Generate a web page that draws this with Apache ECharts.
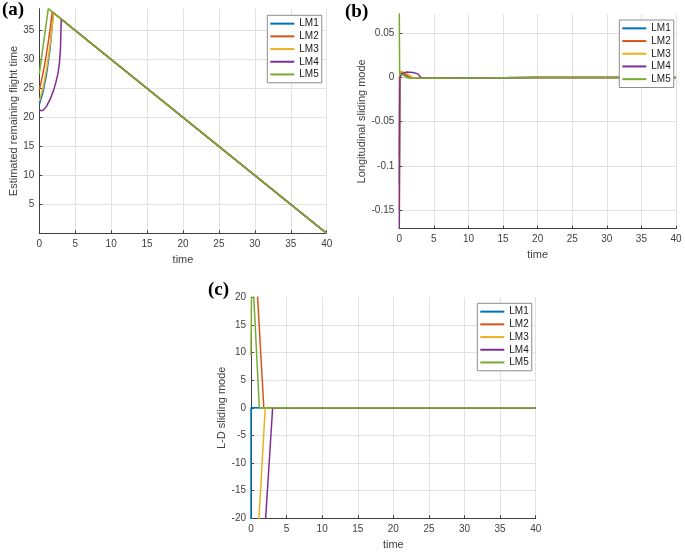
<!DOCTYPE html>
<html>
<head>
<meta charset="utf-8">
<script src="https://cdn.jsdelivr.net/npm/echarts@6/dist/echarts.min.js"></script>
<style>html,body{margin:0;padding:0;background:#fff}#c{width:685px;height:553px}</style>
</head>
<body>
<div id="c"></div>
<script>
// ---------- DATA ----------
var seriesNames = ['LM1', 'LM2', 'LM3', 'LM4', 'LM5'];
var xTicks = [0, 5, 10, 15, 20, 25, 30, 35, 40];

// (a) Estimated remaining flight time
var aX_LM1 = [0, 0.5, 1.0, 1.5, 1.95, 40];
var aY_LM1 = [22.2, 24.3, 27.4, 31.8, 38.05, 0];
var aX_LM2 = [0, 0.4, 0.8, 1.2, 1.5, 1.8, 40];
var aY_LM2 = [24.7, 26.9, 29.5, 32.6, 35.2, 38.2, 0];
var aX_LM3 = [0, 0.5, 1.0, 1.5, 2.0, 40];
var aY_LM3 = [22.8, 25.0, 28.2, 32.5, 38.0, 0];
var aX_LM4 = [0, 0.3, 0.6, 1.0, 1.5, 2.0, 2.3, 2.6, 2.8, 2.95, 3.05, 40];
var aY_LM4 = [21.3, 21.15, 21.3, 21.9, 23.1, 24.7, 26.0, 27.6, 29.3, 32.0, 36.95, 0];
var aX_LM5 = [0, 1.25, 40];
var aY_LM5 = [27.5, 38.75, 0];

// (b) Longitudinal sliding mode
var bX_LM1 = [0, 0.05, 0.2, 0.6, 1.0, 1.5, 2.0, 3, 5, 10, 20, 30, 40];
var bY_LM1 = [-0.12, 0.002, 0.005, 0.004, 0.002, 0.0005, -0.0005, -0.0008, -0.0008, -0.0006, -0.0002, 0, 0];
var bX_LM2 = [0, 0.05, 0.2, 0.6, 1.0, 1.4, 1.8, 3, 5, 10, 20, 30, 40];
var bY_LM2 = [-0.09, 0.002, 0.006, 0.005, 0.003, 0.0012, -0.0004, -0.0008, -0.0008, -0.0006, -0.0002, 0, 0];
var bX_LM3 = [0, 0.05, 0.2, 0.6, 1.0, 1.5, 2.0, 3, 5, 10, 20, 30, 40];
var bY_LM3 = [-0.15, 0.003, 0.007, 0.006, 0.0045, 0.002, -0.0004, -0.0008, -0.0008, -0.0006, -0.0002, 0, 0];
var bX_LM4 = [0, 0.08, 0.3, 1.0, 2.0, 2.7, 3.1, 3.5, 5, 10, 20, 30, 40];
var bY_LM4 = [-0.171, 0.0, 0.004, 0.006, 0.0055, 0.004, 0.0, -0.0008, -0.0008, -0.0006, -0.0002, 0, 0];
var bX_LM5 = [0, 0.05, 0.3, 0.7, 1.0, 1.5, 3, 5, 10, 20, 30, 40];
var bY_LM5 = [0.0717, 0.004, 0.005, 0.002, 0.0, -0.0008, -0.0008, -0.0008, -0.0006, -0.0002, 0, 0];

// (c) L-D sliding mode
var cX_LM1 = [0, 0, 40];
var cY_LM1 = [-40, 0, 0];
var cX_LM2 = [0, 1.8, 40];
var cY_LM2 = [41.4, 0, 0];
var cX_LM3 = [0, 2.0, 40];
var cY_LM3 = [-45.5, 0, 0];
var cX_LM4 = [0, 3.04, 40];
var cY_LM4 = [-62, 0, 0];
var cX_LM5 = [0, 0.12, 1.17, 40];
var cY_LM5 = [9.5, 27, 0, 0];

// ---------- STYLE ----------
var colors = ['#0072BD', '#D95319', '#EDB120', '#7E2F8E', '#77AC30'];
var fontSans = '"Liberation Sans", Arial, Helvetica, sans-serif';
var axisCol = '#404040';
var gridCol = '#e2e2e2';

function pairs(xs, ys) { return xs.map(function (x, i) { return [x, ys[i]]; }); }

function xAxisFor(gi) {
  return {
    type: 'value', gridIndex: gi, min: 0, max: 40, interval: 5,
    name: 'time', nameLocation: 'middle', nameGap: 21,
    nameTextStyle: { color: axisCol, fontSize: 11, fontFamily: fontSans },
    axisLine: { show: true, onZero: false, lineStyle: { color: axisCol, width: 1 } },
    axisTick: { show: true, inside: true, length: 3, lineStyle: { color: axisCol } },
    axisLabel: { color: axisCol, fontSize: 10, fontFamily: fontSans, margin: 6 },
    splitLine: { show: true, lineStyle: { color: gridCol, width: 1 } }
  };
}
function yAxisFor(gi, opts) {
  var o = {
    type: 'value', gridIndex: gi,
    nameLocation: 'middle',
    nameTextStyle: { color: axisCol, fontSize: 11, fontFamily: fontSans },
    axisLine: { show: true, onZero: false, lineStyle: { color: axisCol, width: 1 } },
    axisTick: { show: true, inside: true, length: 3, lineStyle: { color: axisCol } },
    axisLabel: { color: axisCol, fontSize: 10, fontFamily: fontSans, margin: 5 },
    splitLine: { show: true, showMaxLine: false, lineStyle: { color: gridCol, width: 1 } }
  };
  for (var k in opts) o[k] = opts[k];
  return o;
}

var panelData = [
  [[aX_LM1, aY_LM1], [aX_LM2, aY_LM2], [aX_LM3, aY_LM3], [aX_LM4, aY_LM4], [aX_LM5, aY_LM5]],
  [[bX_LM1, bY_LM1], [bX_LM2, bY_LM2], [bX_LM3, bY_LM3], [bX_LM4, bY_LM4], [bX_LM5, bY_LM5]],
  [[cX_LM1, cY_LM1], [cX_LM2, cY_LM2], [cX_LM3, cY_LM3], [cX_LM4, cY_LM4], [cX_LM5, cY_LM5]]
];

var series = [];
panelData.forEach(function (pd, gi) {
  pd.forEach(function (xy, si) {
    series.push({
      name: seriesNames[si], type: 'line', xAxisIndex: gi, yAxisIndex: gi,
      data: pairs(xy[0], xy[1]), showSymbol: false, symbol: 'none', clip: true,
      lineStyle: { color: colors[si], width: 1.5 }, itemStyle: { color: colors[si] },
      animation: false, z: 2, zlevel: 0
    });
  });
});

function legendAt(left, top) {
  return {
    orient: 'vertical', left: left, top: top, data: seriesNames, z: 20,
    backgroundColor: '#fff', borderColor: '#8c8c8c', borderWidth: 1, borderRadius: 0,
    padding: [2, 3, 2, 3], itemGap: 0, itemWidth: 24, itemHeight: 2, icon: 'rect',
    selectedMode: false,
    textStyle: { color: '#1a1a1a', fontSize: 10, fontFamily: fontSans, lineHeight: 12.7 }
  };
}

var option = {
  backgroundColor: '#fff',
  animation: false,
  color: colors,
  grid: [
    { left: 39.3, top: 8.7, width: 287.4, height: 224.6 },
    { left: 399.3, top: 14, width: 276.7, height: 214.7 },
    { left: 251, top: 297.3, width: 284.7, height: 221 }
  ],
  xAxis: [xAxisFor(0), xAxisFor(1), xAxisFor(2)],
  yAxis: [
    yAxisFor(0, { min: 0, max: 38.75, interval: 5, name: 'Estimated remaining flight time', nameGap: 19,
      axisLabel: { color: axisCol, fontSize: 10, fontFamily: fontSans, margin: 5, showMinLabel: false, showMaxLabel: false } }),
    yAxisFor(1, { min: -0.171, max: 0.0717, splitNumber: 5, name: 'Longitudinal sliding mode', nameGap: 29,
      axisLabel: { color: axisCol, fontSize: 10, fontFamily: fontSans, margin: 5, showMinLabel: false, showMaxLabel: false } }),
    yAxisFor(2, { min: -20, max: 20, interval: 5, name: 'L-D sliding mode', nameGap: 22 })
  ],
  legend: [legendAt(267.3, 15.3), legendAt(619.3, 20), legendAt(477.3, 303.3)],
  graphic: [
    { type: 'text', left: 2, top: 1, style: { text: '(a)', font: 'bold 19px "Liberation Serif", "Times New Roman", serif', fill: '#000' } },
    { type: 'text', left: 345, top: 3, style: { text: '(b)', font: 'bold 19px "Liberation Serif", "Times New Roman", serif', fill: '#000' } },
    { type: 'text', left: 208, top: 281, style: { text: '(c)', font: 'bold 19px "Liberation Serif", "Times New Roman", serif', fill: '#000' } }
  ],
  series: series
};

var chart = echarts.init(document.getElementById('c'), null, { renderer: 'canvas' });
chart.setOption(option);
</script>
</body>
</html>
